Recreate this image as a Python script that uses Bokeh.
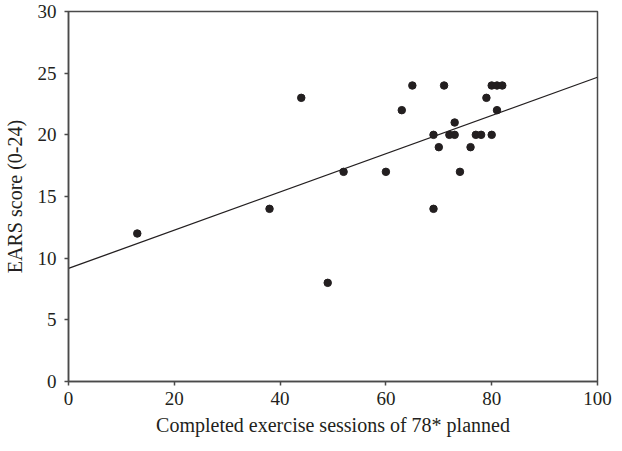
from bokeh.plotting import figure
from bokeh.models import Range1d, FixedTicker
from bokeh.embed import file_html
from bokeh.resources import INLINE

# Data: completed sessions (x) vs EARS score (y)
sessions = [13, 38, 44, 49, 52, 60, 63, 65, 69, 69, 70, 71, 72, 73, 73, 74,
            76, 77, 78, 79, 80, 80, 81, 81, 82]
ears = [12, 14, 23, 8, 17, 17, 22, 24, 14, 20, 19, 24, 20, 20, 21, 17,
        19, 20, 20, 23, 20, 24, 24, 22, 24]

# Regression line
fit_intercept = 9.17
fit_slope = 0.155
line_x = [0, 100]

x_ticks = [0, 20, 40, 60, 80, 100]
y_ticks = [0, 5, 10, 15, 20, 25, 30]

FONT = "Liberation Serif"
AXIS_COLOR = "#4a4a4a"
INK = "#231f20"

p = figure(width=614, height=443, output_backend="svg", toolbar_location=None,
           x_range=Range1d(0, 100), y_range=Range1d(0, 30),
           min_border_left=64, min_border_right=17, min_border_top=11,
           min_border_bottom=62)

p.xgrid.visible = False
p.ygrid.visible = False
p.outline_line_color = AXIS_COLOR
p.outline_line_width = 1.5
p.background_fill_color = "white"
p.border_fill_color = "white"

line_y = [fit_intercept + fit_slope * v for v in line_x]
p.line(line_x, line_y, line_color=INK, line_width=1.3)
p.scatter(sessions, ears, size=7.5, fill_color=INK, line_color=INK)

for ax in (p.xaxis[0], p.yaxis[0]):
    ax.axis_line_color = AXIS_COLOR
    ax.axis_line_width = 1.5
    ax.major_tick_line_color = AXIS_COLOR
    ax.major_tick_line_width = 1.5
    ax.major_tick_out = 4
    ax.major_tick_in = 0
    ax.minor_tick_line_color = None
    ax.major_label_text_font = FONT
    ax.major_label_text_font_size = "19px"
    ax.major_label_text_color = "#231f20"
    ax.axis_label_text_font = FONT
    ax.axis_label_text_font_size = "20px"
    ax.axis_label_text_font_style = "normal"
    ax.axis_label_text_color = "#231f20"

p.xaxis.ticker = FixedTicker(ticks=x_ticks)
p.yaxis.ticker = FixedTicker(ticks=y_ticks)
p.xaxis.axis_label = "Completed exercise sessions of 78* planned"
p.yaxis.axis_label = "EARS score (0-24)"
p.xaxis.major_label_standoff = 6
p.yaxis.major_label_standoff = 8
p.xaxis.axis_label_standoff = 6
p.yaxis.axis_label_standoff = 9

open("out.html", "w").write(file_html(p, INLINE))
